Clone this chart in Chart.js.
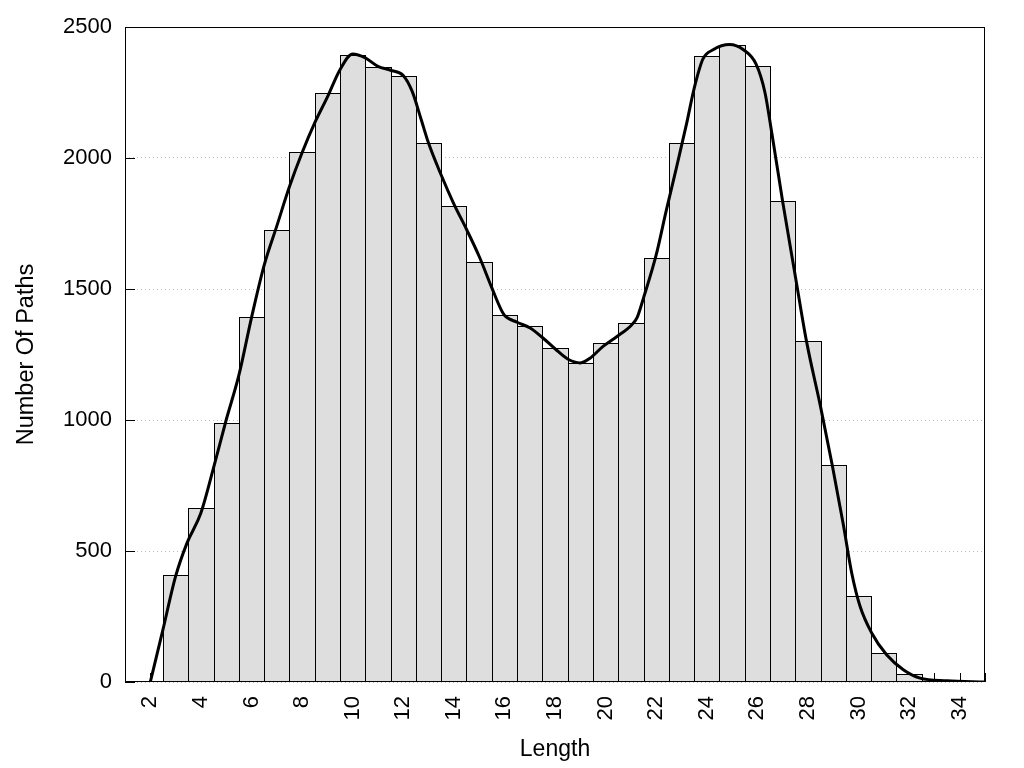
<!DOCTYPE html>
<html>
<head>
<meta charset="utf-8">
<script src="https://cdn.jsdelivr.net/npm/chart.js@4.4.1/dist/chart.umd.min.js"></script>
<style>
  html, body { margin: 0; padding: 0; background: #ffffff; }
  #wrap { width: 1024px; height: 768px; position: relative; }
</style>
</head>
<body>
<div id="wrap"><canvas id="c" width="1024" height="768"></canvas></div>
<script>
// ---- data ----
const lengths = [3, 4, 5, 6, 7, 8, 9, 10, 11, 12, 13, 14, 15, 16, 17, 18, 19, 20,
                 21, 22, 23, 24, 25, 26, 27, 28, 29, 30, 31, 32];
const pathCounts = [408, 664, 989, 1393, 1724, 2023, 2248, 2394, 2347, 2312, 2057, 1815,
                    1603, 1401, 1359, 1273, 1218, 1294, 1370, 1618, 2057, 2391, 2433, 2351,
                    1834, 1302, 828, 329, 111, 31];

// smoothed density curve
const curveX = [2.0, 2.5, 3.0, 3.45, 4.0, 4.5, 5.0, 5.5, 6.0, 6.5, 7.0, 7.5, 8.0, 8.5, 9.0,
                9.5, 10.0, 10.5, 11.0, 11.5, 12.0, 12.35, 12.7, 13.0, 13.5, 14.0, 14.5, 15.0,
                15.5, 15.85, 16.0, 16.5, 17.0, 17.5, 18.0, 18.5, 19.0, 19.4, 19.9, 20.45, 21.0,
                21.25, 21.5, 22.0, 22.4, 22.8, 23.2, 23.5, 23.85, 24.25, 24.9, 25.45, 25.95,
                26.3, 26.57, 27.0, 27.5, 27.94, 28.5, 28.96, 29.4, 29.73, 30.06, 30.52, 31.11,
                31.77, 32.43, 33.5, 35.0];
const curveY = [0, 200, 403, 530, 645, 817, 1000, 1170, 1390, 1590, 1740, 1890, 2020, 2134, 2232,
                2337, 2397, 2382, 2350, 2335, 2315, 2255, 2150, 2057, 1935, 1825, 1728, 1625,
                1505, 1425, 1400, 1373, 1352, 1315, 1272, 1233, 1218, 1237, 1281, 1319, 1360,
                1392, 1466, 1630, 1800, 1962, 2130, 2265, 2378, 2413, 2433, 2413, 2358,
                2250, 2096, 1834, 1550, 1302, 1050, 828, 600, 416, 289, 187, 104,
                47, 15, 5, 0];

const xTickLabels = [2, 4, 6, 8, 10, 12, 14, 16, 18, 20, 22, 24, 26, 28, 30, 32, 34];
const yTickLabels = [0, 500, 1000, 1500, 2000, 2500];

const FONT = "'Liberation Sans', Arial, Helvetica, sans-serif";
Chart.defaults.font.family = FONT;
Chart.defaults.color = '#000000';

// snap bar edges to whole pixels so neighbouring borders share one crisp 1px line
const crispBars = {
  id: 'crispBars',
  afterDatasetsUpdate(chart) {
    chart.data.datasets.forEach((ds, di) => {
      const meta = chart.getDatasetMeta(di);
      if (meta.type !== 'bar') return;
      meta.data.forEach(el => {
        const l = Math.round(el.x - el.width / 2);
        const r = Math.round(el.x + el.width / 2) + 1;
        el.x = (l + r) / 2;
        el.width = r - l;
        el.y = Math.round(el.y);
      });
    });
  }
};

const framePlugin = {
  id: 'frame',
  beforeDatasetsDraw(chart) {
    const { ctx, chartArea: a, scales: { x, y } } = chart;
    ctx.save();
    ctx.strokeStyle = '#000000';
    ctx.lineWidth = 1;
    ctx.beginPath();
    for (let v = Math.ceil(x.min); v <= x.max; v++) {
      const px = Math.round(x.getPixelForValue(v)) + 0.5;
      ctx.moveTo(px, a.bottom);
      ctx.lineTo(px, a.bottom - 9);
    }
    y.ticks.forEach(t => {
      const py = Math.round(y.getPixelForValue(t.value)) + 0.5;
      ctx.moveTo(a.left, py);
      ctx.lineTo(a.left + 10, py);
    });
    ctx.stroke();
    ctx.restore();
  },
  afterDatasetsDraw(chart) {
    const { ctx, chartArea: a } = chart;
    ctx.save();
    ctx.strokeStyle = '#000000';
    ctx.lineWidth = 1;
    const l = Math.round(a.left) + 0.5, t = Math.round(a.top) + 0.5;
    const r = Math.round(a.right) - 0.5, b = Math.round(a.bottom) - 0.5;
    ctx.strokeRect(l, t, r - l, b - t);
    ctx.restore();
  }
};

new Chart(document.getElementById('c'), {
  type: 'bar',
  data: {
    datasets: [
      {
        type: 'line',
        label: 'density',
        data: curveX.map((x, i) => ({ x: x, y: curveY[i] })),
        borderColor: '#000000',
        borderWidth: 3,
        pointRadius: 0,
        fill: false,
        cubicInterpolationMode: 'monotone',
        order: 0
      },
      {
        type: 'bar',
        label: 'Number Of Paths',
        data: lengths.map((x, i) => ({ x: x, y: pathCounts[i] })),
        backgroundColor: '#dedede',
        borderColor: '#000000',
        borderWidth: 1,
        inflateAmount: 0,
        barPercentage: 1,
        categoryPercentage: 1,
        order: 1
      }
    ]
  },
  options: {
    responsive: false,
    animation: false,
    devicePixelRatio: 1,
    layout: { padding: { left: 0, right: 39, top: 27, bottom: 0 } },
    plugins: { legend: { display: false }, tooltip: { enabled: false } },
    scales: {
      x: {
        type: 'linear',
        min: 1,
        max: 35,
        offset: false,
        grid: { display: false, drawTicks: false },
        border: { display: false },
        afterBuildTicks: s => { s.ticks = xTickLabels.map(v => ({ value: v })); },
        ticks: {
          autoSkip: false,
          minRotation: 90,
          maxRotation: 90,
          padding: 14,
          font: { size: 22 },
          callback: v => String(v)
        },
        title: { display: true, text: 'Length', font: { size: 23 }, padding: { top: 0, bottom: 5 } },
        afterFit: s => { s.height = 86; }
      },
      y: {
        min: 0,
        max: 2500,
        afterBuildTicks: s => { s.ticks = yTickLabels.map(v => ({ value: v })); },
        ticks: { padding: 13, font: { size: 22 }, callback: v => String(v) },
        grid: { color: '#bdbdbd', lineWidth: 1, drawTicks: false },
        border: { display: false, dash: [1, 3] },
        title: { display: true, text: 'Number Of Paths', font: { size: 23.5 }, padding: { top: 12, bottom: 0 } },
        afterFit: s => { s.width = 125; }
      }
    }
  },
  plugins: [crispBars, framePlugin]
});
</script>
</body>
</html>
